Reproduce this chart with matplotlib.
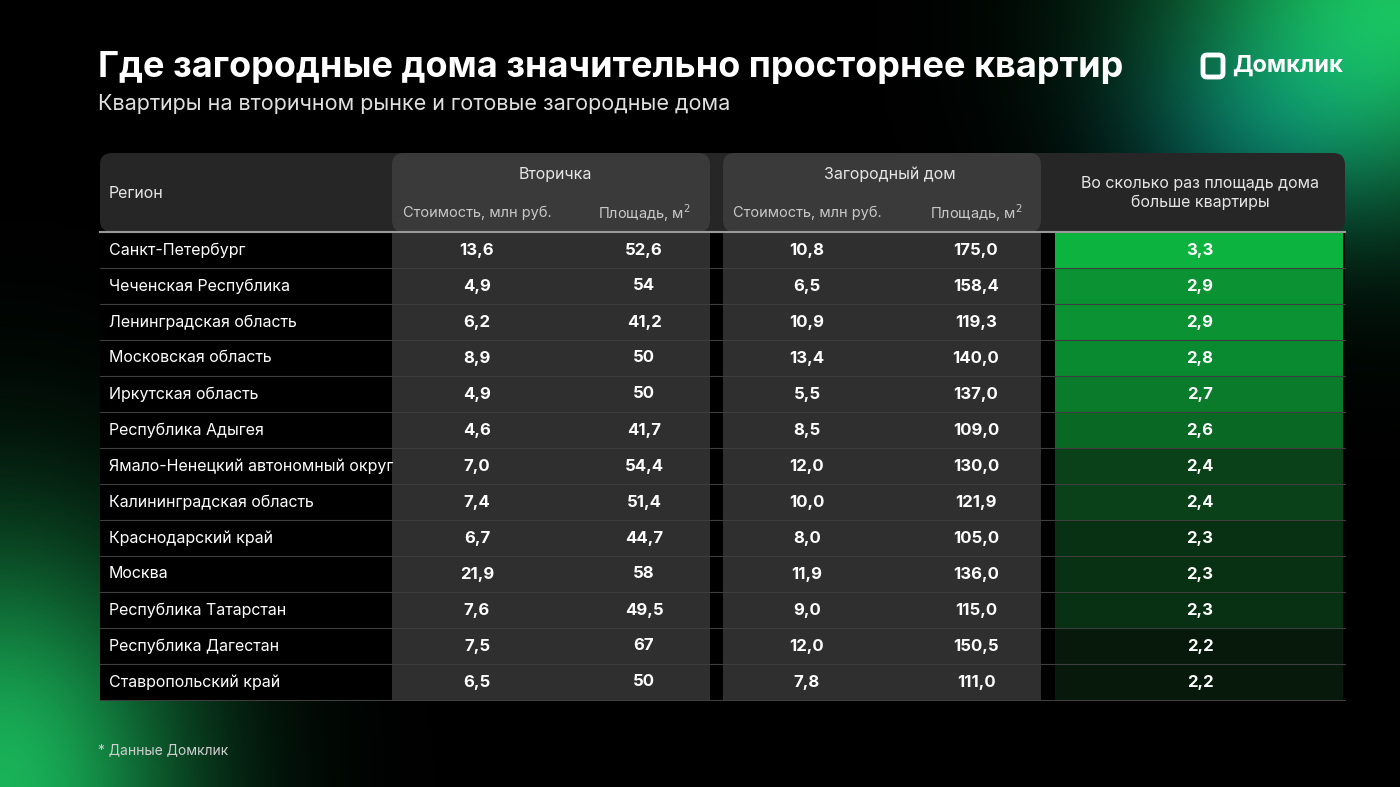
import numpy as np
import matplotlib.pyplot as plt
from matplotlib.patches import FancyBboxPatch, Rectangle
from matplotlib.colors import LinearSegmentedColormap

plt.rcParams['font.family'] = ['Inter', 'DejaVu Sans']

regions = ["Санкт-Петербург", "Чеченская Республика", "Ленинградская область",
           "Московская область", "Иркутская область", "Республика Адыгея",
           "Ямало-Ненецкий автономный округ", "Калининградская область",
           "Краснодарский край", "Москва", "Республика Татарстан",
           "Республика Дагестан", "Ставропольский край"]
flat_price = ["13,6", "4,9", "6,2", "8,9", "4,9", "4,6", "7,0", "7,4", "6,7", "21,9", "7,6", "7,5", "6,5"]
flat_area = ["52,6", "54", "41,2", "50", "50", "41,7", "54,4", "51,4", "44,7", "58", "49,5", "67", "50"]
house_price = ["10,8", "6,5", "10,9", "13,4", "5,5", "8,5", "12,0", "10,0", "8,0", "11,9", "9,0", "12,0", "7,8"]
house_area = ["175,0", "158,4", "119,3", "140,0", "137,0", "109,0", "130,0", "121,9", "105,0", "136,0", "115,0", "150,5", "111,0"]
ratio = [3.3, 2.9, 2.9, 2.8, 2.7, 2.6, 2.4, 2.4, 2.3, 2.3, 2.3, 2.2, 2.2]

W, H = 1400, 787
fig = plt.figure(figsize=(14, 7.87), dpi=100)
ax = fig.add_axes([0, 0, 1, 1])
ax.set_xlim(0, W)
ax.set_ylim(H, 0)
ax.axis('off')

# background with green glows
yy, xx = np.mgrid[0:H:2, 0:W:2]
def blob(cx, cy, sx, sy):
    return np.exp(-(((xx - cx) / sx) ** 2 + ((yy - cy) / sy) ** 2))
g1 = blob(1400, 0, 230, 200)
g2 = blob(0, 787, 190, 250)
teal = blob(1260, 130, 140, 110) * 0.5
img = np.zeros(xx.shape + (3,))
img[..., 0] = 0.10 * g1 + 0.10 * g2
img[..., 1] = 0.75 * g1 + 0.70 * g2 + 0.30 * teal
img[..., 2] = 0.35 * g1 + 0.35 * g2 + 0.45 * teal
ax.imshow(np.clip(img, 0, 1), extent=[0, W, H, 0], zorder=0, aspect='auto')

ax.text(98, 67, "Где загородные дома значительно просторнее квартир", color='white',
        fontsize=26, fontweight='bold', va='center')
ax.text(98, 104, "Квартиры на вторичном рынке и готовые загородные дома", color='#e0e0e0',
        fontsize=15.5, va='center')
ax.text(1232, 66, "Домклик", color='white', fontsize=17, fontweight='bold', va='center')
ax.add_patch(FancyBboxPatch((1203, 55), 20, 22, boxstyle="round,pad=0,rounding_size=4",
                            fc='none', ec='white', lw=3.5, zorder=3))

top, hdr_bot, rh, n = 153, 232, 36, len(regions)
bot = hdr_bot + rh * n

# header band
ax.add_patch(FancyBboxPatch((100, top), 1245, hdr_bot - top, boxstyle="round,pad=0,rounding_size=12",
                            fc='#262626', ec='none', zorder=1))
ax.add_patch(Rectangle((100, hdr_bot), 1245, bot - hdr_bot, fc='#000000', ec='none', zorder=1))
# grey column blocks
for x0, x1 in [(392, 710), (723, 1041)]:
    ax.add_patch(FancyBboxPatch((x0, top), x1 - x0, hdr_bot - top, boxstyle="round,pad=0,rounding_size=12",
                                fc='#3a3a3a', ec='none', zorder=2))
    ax.add_patch(Rectangle((x0, hdr_bot), x1 - x0, bot - hdr_bot, fc='#2f2f2f', ec='none', zorder=2))

# ratio cells
cmap = LinearSegmentedColormap.from_list('g', ['#040a05', '#0a3d17', '#0a8a30', '#0db33f'])
for i, r in enumerate(ratio):
    y = hdr_bot + i * rh
    t = (r - 2.2) / (3.3 - 2.2)
    ax.add_patch(Rectangle((1055, y), 288, rh, fc=cmap(0.1 + 0.9 * t ** 0.75), ec='none', zorder=2))

ax.plot([100, 1345], [hdr_bot, hdr_bot], color='#9a9a9a', lw=1.5, zorder=4)
for i in range(1, n + 1):
    y = hdr_bot + i * rh
    ax.plot([100, 1345], [y, y], color='#3e3e3e', lw=0.8, zorder=4)

hc = '#e6e6e6'
ax.text(109, 193, "Регион", color=hc, fontsize=11.5, va='center', zorder=5)
ax.text(555, 174, "Вторичка", color=hc, fontsize=11.5, ha='center', va='center', zorder=5)
ax.text(890, 174, "Загородный дом", color=hc, fontsize=11.5, ha='center', va='center', zorder=5)
for cx in (477, 807):
    ax.text(cx, 213, "Стоимость, млн руб.", color='#c8c8c8', fontsize=10.5, ha='center', va='center', zorder=5)
for cx in (644, 976):
    ax.text(cx, 213, "Площадь, м$^2$", color='#c8c8c8', fontsize=10.5, ha='center', va='center', zorder=5)
ax.text(1200, 193, "Во сколько раз площадь дома\nбольше квартиры", color=hc, fontsize=11.5,
        ha='center', va='center', linespacing=1.35, zorder=5)

for i in range(n):
    y = hdr_bot + i * rh + rh / 2
    ax.text(109, y, regions[i], color='white', fontsize=11.5, va='center', zorder=5)
    for cx, vals in [(477, flat_price), (644, flat_area), (807, house_price), (976, house_area)]:
        ax.text(cx, y, vals[i], color='white', fontsize=12, fontweight='bold', ha='center', va='center', zorder=5)
    ax.text(1200, y, f"{ratio[i]:.1f}".replace('.', ','), color='white', fontsize=12,
            fontweight='bold', ha='center', va='center', zorder=5)

ax.text(98, 750, "* Данные Домклик", color='#cfcfcf', fontsize=10, va='center')

fig.savefig("out.png", dpi=100, facecolor='black')
